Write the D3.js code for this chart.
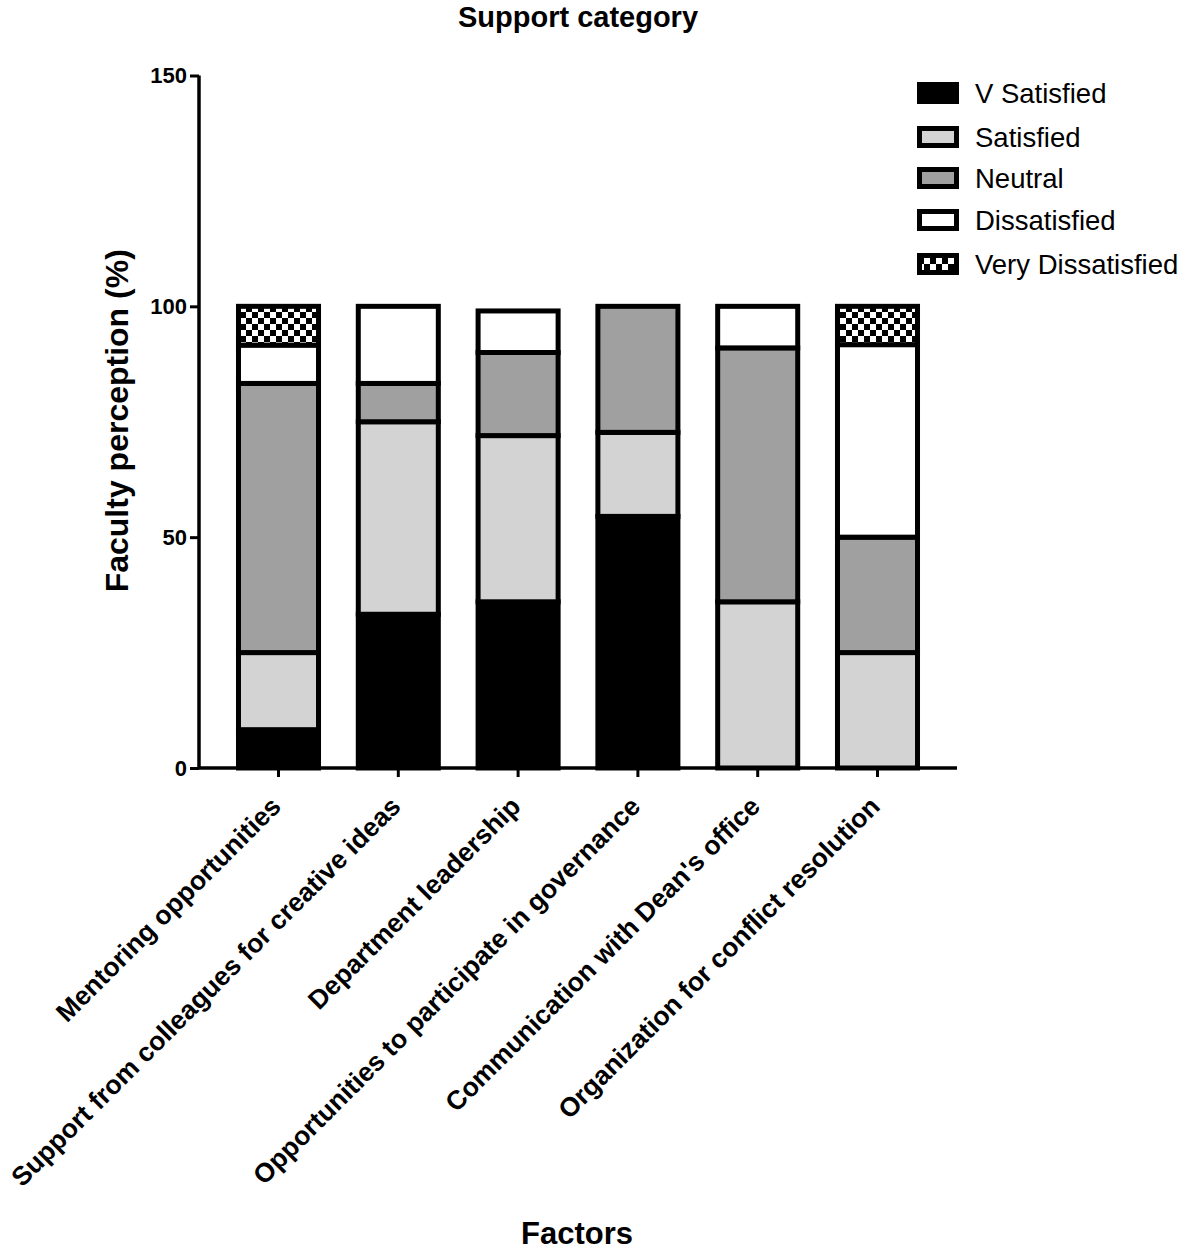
<!DOCTYPE html>
<html>
<head>
<meta charset="utf-8">
<script src="https://cdn.jsdelivr.net/npm/d3@7"></script>
<style>
  html, body { margin: 0; padding: 0; background: #fff; }
  svg { display: block; font-family: "Liberation Sans", Arial, Helvetica, sans-serif; }
</style>
</head>
<body>
<svg id="chart" width="1181" height="1251"></svg>
<script>
const categories = [
  "Mentoring opportunities",
  "Support from colleagues for creative ideas",
  "Department leadership",
  "Opportunities to participate in governance",
  "Communication with Dean's office",
  "Organization for conflict resolution"
];
const seriesNames = ["V Satisfied", "Satisfied", "Neutral", "Dissatisfied", "Very Dissatisfied"];
const vSatisfied       = [8.3, 33.3, 36, 54.5, 0, 0];
const satisfied        = [16.7, 41.7, 36, 18.2, 36, 25];
const neutral          = [58.3, 8.3, 18, 27.3, 55, 25];
const dissatisfied     = [8.3, 16.7, 9, 0, 9, 41.7];
const veryDissatisfied = [8.4, 0, 0, 0, 0, 8.3];
const yTicks = [0, 50, 100, 150];

const svg = d3.select("#chart");
const defs = svg.append("defs");
const pat = defs.append("pattern").attr("id", "checker")
  .attr("patternUnits", "userSpaceOnUse").attr("width", 12).attr("height", 12);
pat.append("rect").attr("width", 12).attr("height", 12).attr("fill", "#fff");
pat.append("rect").attr("x", 0).attr("y", 0).attr("width", 6).attr("height", 6).attr("fill", "#000");
pat.append("rect").attr("x", 6).attr("y", 6).attr("width", 6).attr("height", 6).attr("fill", "#000");

const fills = ["#000000", "#d3d3d3", "#a0a0a0", "#ffffff", "url(#checker)"];

const axisX0 = 199, axisX1 = 957;
const x = d3.scaleBand().domain(categories).range([218.6, 937.4]).paddingInner(0.332).paddingOuter(0.166);
const y = d3.scaleLinear().domain([0, 150]).range([768, 75.5]);

const table = categories.map((c, i) => ({
  cat: c,
  "V Satisfied": vSatisfied[i],
  "Satisfied": satisfied[i],
  "Neutral": neutral[i],
  "Dissatisfied": dissatisfied[i],
  "Very Dissatisfied": veryDissatisfied[i]
}));
const stacked = d3.stack().keys(seriesNames)(table);

// bars
stacked.forEach((layer, li) => {
  svg.append("g").selectAll("rect")
    .data(layer.filter(d => d[1] - d[0] > 0))
    .join("rect")
    .attr("x", d => x(d.data.cat))
    .attr("width", x.bandwidth())
    .attr("y", d => y(d[1]))
    .attr("height", d => y(d[0]) - y(d[1]))
    .attr("fill", fills[li])
    .attr("stroke", "#000")
    .attr("stroke-width", 5);
});

// y axis
const yAxis = svg.append("g").attr("transform", `translate(${axisX0},0)`)
  .call(d3.axisLeft(y).tickValues(yTicks).tickSize(9).tickPadding(3).tickFormat(d3.format("d")));
yAxis.select(".domain").attr("d", `M0,${y(150)}V${y(0)}`).attr("stroke-width", 3.5);
yAxis.selectAll(".tick line").attr("stroke-width", 3);
yAxis.selectAll(".tick text").attr("font-size", 22).attr("font-weight", "bold").attr("fill", "#000")
  .attr("font-family", "'Liberation Sans', Arial, sans-serif");

// x axis
const xAxis = svg.append("g").attr("transform", `translate(0,${y(0)})`)
  .call(d3.axisBottom(x).tickSize(9).tickFormat(""));
xAxis.select(".domain").attr("d", `M${axisX0},0H${axisX1}`).attr("stroke-width", 3.5);
xAxis.selectAll(".tick line").attr("stroke-width", 3);

// x labels rotated
svg.append("g").selectAll("text")
  .data(categories)
  .join("text")
  .attr("transform", d => `translate(${x(d) + x.bandwidth() / 2 + 4},${y(0) + 40}) rotate(-45)`)
  .attr("text-anchor", "end")
  .attr("font-size", 26.5)
  .attr("font-weight", "bold")
  .text(d => d);

// titles
svg.append("text").attr("x", 578).attr("y", 27).attr("text-anchor", "middle")
  .attr("font-size", 29).attr("font-weight", "bold").text("Support category");
svg.append("text").attr("transform", `translate(128,${y(75) - 1}) rotate(-90)`)
  .attr("text-anchor", "middle").attr("font-size", 32).attr("font-weight", "bold")
  .text("Faculty perception (%)");
svg.append("text").attr("x", 577).attr("y", 1244).attr("text-anchor", "middle")
  .attr("font-size", 31).attr("font-weight", "bold").text("Factors");

// legend
const legendY = [93, 137, 178, 220, 264];
const leg = svg.append("g");
seriesNames.forEach((s, i) => {
  const g = leg.append("g").attr("transform", `translate(0,${legendY[i]})`);
  if (i === 0) {
    g.append("rect").attr("x", 917).attr("y", -11).attr("width", 42).attr("height", 22).attr("fill", "#000");
  } else {
    g.append("rect").attr("x", 919.5).attr("y", -8.5).attr("width", 37).attr("height", 17)
      .attr("fill", fills[i]).attr("stroke", "#000").attr("stroke-width", 5);
  }
  g.append("text").attr("x", 975).attr("y", 0).attr("dy", "0.36em")
    .attr("font-size", 27.5).text(s);
});
</script>
</body>
</html>
